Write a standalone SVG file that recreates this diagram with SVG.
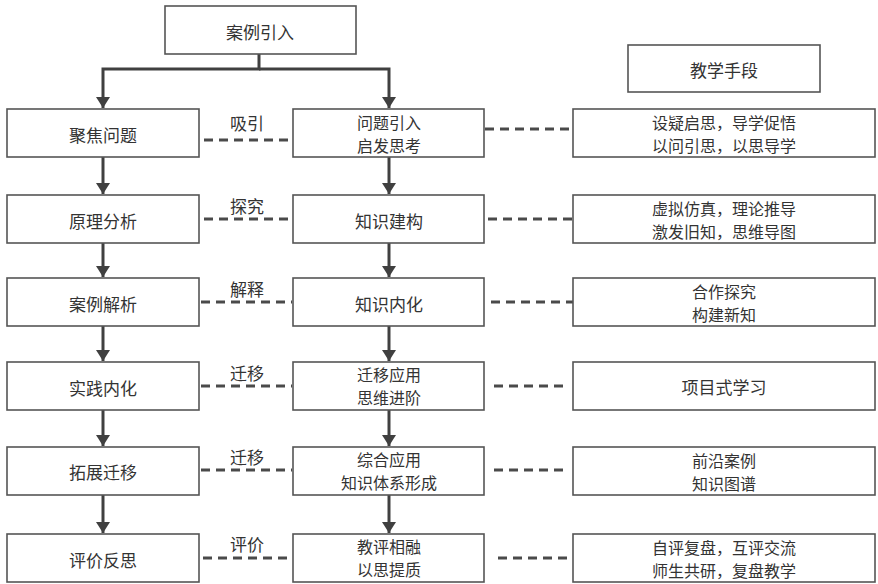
<svg xmlns="http://www.w3.org/2000/svg" width="878" height="584" viewBox="0 0 878 584">
<style>
.box{fill:#fff;stroke:#555;stroke-width:1.6}
.t{font-family:"Noto Sans CJK SC","Noto Sans",sans-serif;font-size:17px;fill:#333;text-anchor:middle;dominant-baseline:central}
.t2{font-size:16px}
.arr{fill:none;stroke:#404040;stroke-width:3}
.dash{fill:none;stroke:#4a4a4a;stroke-width:3;stroke-dasharray:9 6}
</style>
<defs>
<marker id="ah" viewBox="0 0 11 14" refX="11" refY="7" markerWidth="11" markerHeight="14" markerUnits="userSpaceOnUse" orient="auto">
<path d="M0,0 L11,7 L0,14 z" fill="#404040"/>
</marker>
</defs>
<rect width="878" height="584" fill="#fff"/>

<g id="connectors">
<path class="arr" d="M259,54 V69 H103 V108" marker-end="url(#ah)"/>
<path class="arr" d="M259,69 H389 V108" marker-end="url(#ah)"/>
<path class="arr" d="M103,157 V194" marker-end="url(#ah)"/>
<path class="arr" d="M103,243 V277" marker-end="url(#ah)"/>
<path class="arr" d="M103,326 V361" marker-end="url(#ah)"/>
<path class="arr" d="M103,410 V446" marker-end="url(#ah)"/>
<path class="arr" d="M103,495 V533" marker-end="url(#ah)"/>
<path class="arr" d="M389,157 V194" marker-end="url(#ah)"/>
<path class="arr" d="M389,243 V277" marker-end="url(#ah)"/>
<path class="arr" d="M389,326 V361" marker-end="url(#ah)"/>
<path class="arr" d="M389,410 V446" marker-end="url(#ah)"/>
<path class="arr" d="M389,495 V533" marker-end="url(#ah)"/>
<path class="dash" d="M204,140 H292"/>
<path class="dash" d="M204,219 H292"/>
<path class="dash" d="M201,302 H292"/>
<path class="dash" d="M201,386 H292"/>
<path class="dash" d="M201,470 H292"/>
<path class="dash" d="M203,558 H292"/>
<path class="dash" d="M485,129 H573"/>
<path class="dash" d="M488,219 H573"/>
<path class="dash" d="M491,302 H573"/>
<path class="dash" d="M494,386 H566"/>
<path class="dash" d="M494,470 H566"/>
<path class="dash" d="M498,558 H573"/>
<text class="t" x="247" y="122">吸引</text>
<text class="t" x="247" y="205">探究</text>
<text class="t" x="247" y="288">解释</text>
<text class="t" x="247" y="372">迁移</text>
<text class="t" x="247" y="456">迁移</text>
<text class="t" x="247" y="543">评价</text>
</g>

<g id="n-top"><rect class="box" x="165" y="6" width="191" height="48"/><text class="t" x="260" y="31">案例引入</text></g>
<g id="n-means"><rect class="box" x="628" y="45" width="192" height="47"/><text class="t" x="724" y="69">教学手段</text></g>

<g id="n-l1"><rect class="box" x="7" y="109" width="192" height="48"/><text class="t" x="103" y="134">聚焦问题</text></g>
<g id="n-l2"><rect class="box" x="7" y="195" width="192" height="48"/><text class="t" x="103" y="220">原理分析</text></g>
<g id="n-l3"><rect class="box" x="7" y="278" width="192" height="48"/><text class="t" x="103" y="303">案例解析</text></g>
<g id="n-l4"><rect class="box" x="7" y="362" width="192" height="48"/><text class="t" x="103" y="387">实践内化</text></g>
<g id="n-l5"><rect class="box" x="7" y="447" width="192" height="48"/><text class="t" x="103" y="471">拓展迁移</text></g>
<g id="n-l6"><rect class="box" x="7" y="534" width="192" height="48"/><text class="t" x="103" y="559">评价反思</text></g>

<g id="n-m1"><rect class="box" x="293" y="109" width="191" height="48"/><text class="t t2" x="389" y="122">问题引入</text><text class="t t2" x="389" y="145">启发思考</text></g>
<g id="n-m2"><rect class="box" x="293" y="195" width="191" height="48"/><text class="t" x="389" y="220">知识建构</text></g>
<g id="n-m3"><rect class="box" x="293" y="278" width="191" height="48"/><text class="t" x="389" y="303">知识内化</text></g>
<g id="n-m4"><rect class="box" x="293" y="362" width="191" height="48"/><text class="t t2" x="389" y="374">迁移应用</text><text class="t t2" x="389" y="397">思维进阶</text></g>
<g id="n-m5"><rect class="box" x="293" y="447" width="191" height="48"/><text class="t t2" x="389" y="459">综合应用</text><text class="t t2" x="389" y="482">知识体系形成</text></g>
<g id="n-m6"><rect class="box" x="293" y="534" width="191" height="48"/><text class="t t2" x="389" y="546">教评相融</text><text class="t t2" x="389" y="569">以思提质</text></g>

<g id="n-r1"><rect class="box" x="573" y="109" width="302" height="48"/><text class="t t2" x="724" y="122">设疑启思，导学促悟</text><text class="t t2" x="724" y="145">以问引思，以思导学</text></g>
<g id="n-r2"><rect class="box" x="573" y="195" width="302" height="48"/><text class="t t2" x="724" y="208">虚拟仿真，理论推导</text><text class="t t2" x="724" y="231">激发旧知，思维导图</text></g>
<g id="n-r3"><rect class="box" x="573" y="278" width="302" height="48"/><text class="t t2" x="724" y="291">合作探究</text><text class="t t2" x="724" y="314">构建新知</text></g>
<g id="n-r4"><rect class="box" x="573" y="362" width="302" height="48"/><text class="t" x="724" y="386">项目式学习</text></g>
<g id="n-r5"><rect class="box" x="573" y="447" width="302" height="48"/><text class="t t2" x="724" y="460">前沿案例</text><text class="t t2" x="724" y="483">知识图谱</text></g>
<g id="n-r6"><rect class="box" x="573" y="534" width="302" height="48"/><text class="t t2" x="724" y="547">自评复盘，互评交流</text><text class="t t2" x="724" y="570">师生共研，复盘教学</text></g>
</svg>
